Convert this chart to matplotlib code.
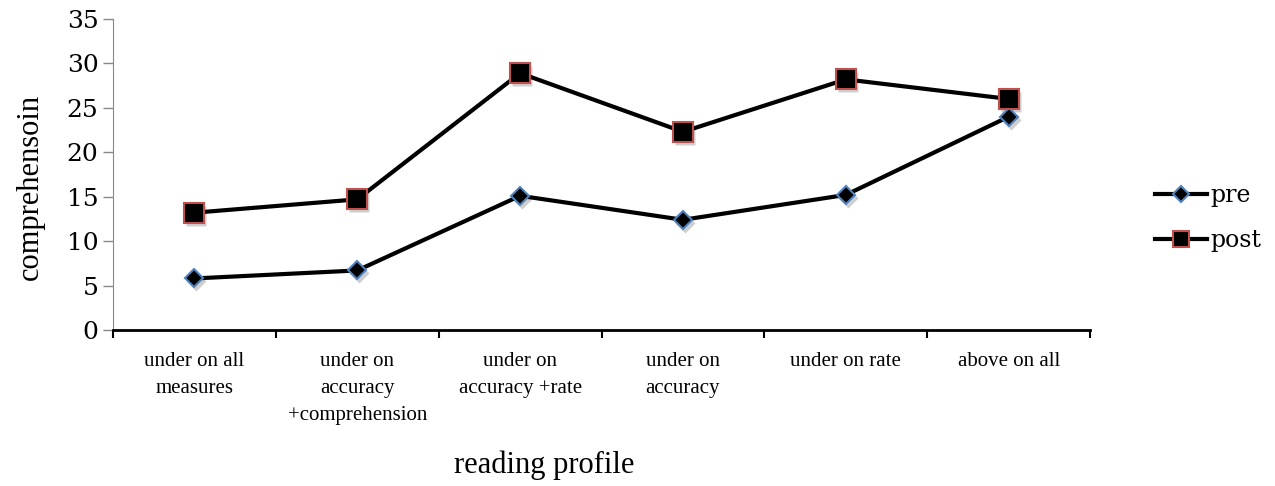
import matplotlib
matplotlib.use("Agg")
import matplotlib.pyplot as plt
import matplotlib.transforms as mtransforms
import numpy as np

# reading profile groups and mean comprehension scores
profiles = ["under on all\nmeasures", "under on\naccuracy\n+comprehension",
            "under on\naccuracy +rate", "under on\naccuracy", "under on rate",
            "above on all"]
pre = [5.8, 6.7, 15.1, 12.4, 15.2, 24.0]
post = [13.2, 14.7, 28.9, 22.3, 28.2, 26.0]

fig = plt.figure(figsize=(12.75, 4.86), dpi=100)
ax = fig.add_axes([0.0886, 0.321, 0.7664, 0.64])

x = np.arange(len(profiles))

# soft drop shadow under the markers: gray copies nudged down-right
shade = mtransforms.offset_copy(ax.transData, fig=fig, x=2, y=-3, units="dots")
ax.plot(x, pre, ls="none", marker="D", ms=10, mfc="#777777", mec="none",
        alpha=0.35, transform=shade, zorder=2)
ax.plot(x, post, ls="none", marker="s", ms=15, mfc="#777777", mec="none",
        alpha=0.35, transform=shade, zorder=2)

ax.plot(x, pre, color="black", lw=3, marker="D", ms=9, mfc="black",
        mec="#4F81BD", mew=1.5, label="pre", zorder=3)
ax.plot(x, post, color="black", lw=3, marker="s", ms=14, mfc="black",
        mec="#C0504D", mew=1.5, label="post", zorder=3)

ax.set_xlim(-0.5, len(profiles) - 0.5)
ax.set_ylim(0, 35)
ax.set_yticks(range(0, 36, 5))

# category labels in the middle, tick marks between categories
ax.set_xticks(x)
ax.set_xticklabels(profiles, fontsize=15, family="Liberation Serif", linespacing=1.55)
ax.set_xticks(np.arange(-0.5, len(profiles)), minor=True)
ax.tick_params(axis="x", which="major", length=0, pad=16)
ax.tick_params(axis="x", which="minor", length=6, width=1.5, color="black")
ax.tick_params(axis="y", length=7, width=1, color="#888888", labelsize=18)
for t in ax.get_yticklabels():
    t.set_family("DejaVu Serif")

for s in ["top", "right"]:
    ax.spines[s].set_visible(False)
ax.spines["left"].set_color("#888888")
ax.spines["bottom"].set_color("black")
ax.spines["bottom"].set_linewidth(2)

ax.set_ylabel("comprehensoin", fontsize=22, family="Liberation Serif")
ax.yaxis.set_label_coords(-0.07, 0.46)
fig.text(0.427, 0.043, "reading profile", fontsize=22, family="Liberation Serif",
         ha="center", va="center")

leg = ax.legend(loc="center left", bbox_to_anchor=(1.045, 0.36), frameon=False,
                prop={"family": "DejaVu Serif", "size": 17}, handlelength=2.2,
                handletextpad=0.15, labelspacing=0.95, markerscale=0.85)

fig.savefig("out.png", dpi=100)
